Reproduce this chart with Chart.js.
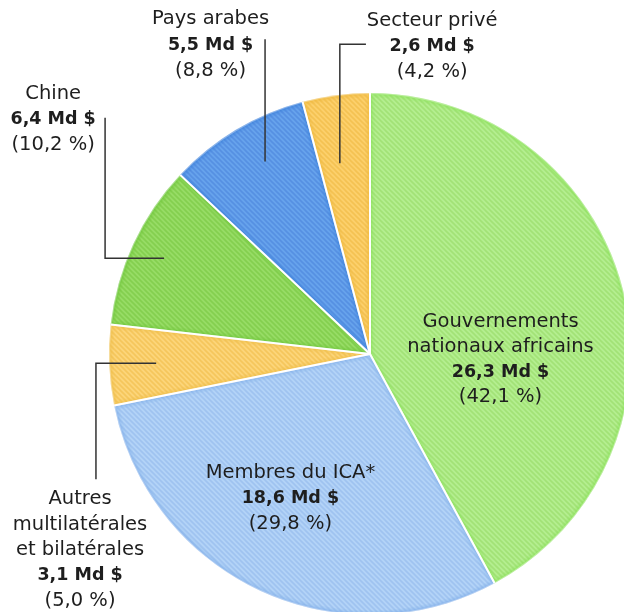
<!DOCTYPE html>
<html><head><meta charset="utf-8">
<script src="https://cdn.jsdelivr.net/npm/chart.js@4/dist/chart.umd.min.js"></script>
<style>
html,body{margin:0;padding:0;background:#fff;overflow:hidden;width:624px;height:612px;}
#wrap{position:absolute;left:0;top:0;width:640px;height:616px;}
</style></head>
<body><div id="wrap"><canvas id="c" width="640" height="616"></canvas></div>
<script>
const categories = ["Gouvernements nationaux africains","Membres du ICA*","Autres multilatérales et bilatérales","Chine","Pays arabes","Secteur privé"];
const amounts = [26.3, 18.6, 3.1, 6.4, 5.5, 2.6];
const percents = ["42,1 %","29,8 %","5,0 %","10,2 %","8,8 %","4,2 %"];
const amountLabels = ["26,3 Md $","18,6 Md $","3,1 Md $","6,4 Md $","5,5 Md $","2,6 Md $"];
const nameLines = [["Gouvernements","nationaux africains"],["Membres du ICA*"],["Autres","multilatérales","et bilatérales"],["Chine"],["Pays arabes"],["Secteur privé"]];

const baseColors = ["#b4ee90","#b3d3f7","#fcd57a","#97dc66","#67a3ec","#fcd06c"];
const stripeColors = ["#a2e276","#9fc3f0","#f5c65c","#84cf4f","#5690e2","#f4c252"];
const edgeColors = ["rgba(140,226,90,","rgba(130,175,235,","rgba(240,190,70,","rgba(110,200,60,","rgba(60,130,220,","rgba(240,185,60,"];

function makePattern(base, stripe){
  const s = 5;
  const c = document.createElement('canvas');
  c.width = s; c.height = s;
  const g = c.getContext('2d');
  g.fillStyle = base; g.fillRect(0,0,s,s);
  g.strokeStyle = stripe; g.lineWidth = 1.6;
  g.beginPath();
  g.moveTo(-1,-1); g.lineTo(s+1,s+1);
  g.moveTo(-1,s-1); g.lineTo(1,s+1);
  g.moveTo(s-1,-1); g.lineTo(s+1,1);
  g.stroke();
  return g.createPattern(c,'repeat');
}
const ctx0 = document.getElementById('c').getContext('2d');
const patterns = baseColors.map((b,i)=>makePattern(b, stripeColors[i]));

const FONT = '"DejaVu Sans", sans-serif';
const labelPlan = [
  {type:'in', lx:0.50, ly:-0.122, lh:25},
  {type:'in', lx:-0.305, ly:0.455, lh:25.5},
  {type:'out', pos:0.5, frac:0.82, hx:-1.05, vEnd:0.48, lx:-1.111, ly:0.557, lh:25.5},
  {type:'out', pos:0.5, frac:0.87, hx:-1.015, vEnd:-0.905, lx:-1.214, ly:-0.997, lh:25.5},
  {type:'out', pos:0.57, frac:0.84, vEnd:-1.206, lx:-0.611, ly:-1.282, lh:26},
  {type:'out', pos:0.40, frac:0.74, vEnd:-1.187, lx:0.238, ly:-1.275, lh:25.5, hook:0.10}
];

function drawBlock(ctx, lines, x, y, lh){
  ctx.textAlign='center'; ctx.textBaseline='middle';
  lines.forEach((ln,i)=>{
    ctx.font = (ln.bold? 'bold 17.5px ':'19.5px ') + FONT;
    ctx.fillStyle = '#1e1e1e';
    ctx.fillText(ln.t, x, y + i*lh);
  });
}

function arcPath(ctx, p){
  ctx.beginPath();
  ctx.moveTo(p.x, p.y);
  ctx.arc(p.x, p.y, p.outerRadius, p.startAngle, p.endAngle);
  ctx.closePath();
}

const labelPlugin = {
  id:'labels',
  afterDatasetsDraw(chart){
    const ctx = chart.ctx;
    const meta = chart.getDatasetMeta(0);
    // soft inner edge glow per slice
    meta.data.forEach((arc,i)=>{
      const p = arc.getProps(['x','y','startAngle','endAngle','outerRadius'], true);
      ctx.save();
      arcPath(ctx,p); ctx.clip();
      [[9,0.18],[6,0.25],[3.5,0.35]].forEach(([w,a])=>{
        ctx.strokeStyle = edgeColors[i]+a+')'; ctx.lineWidth=w; ctx.lineJoin='round';
        arcPath(ctx,p); ctx.stroke();
      });
      ctx.restore();
    });
    meta.data.forEach((arc)=>{
      const p = arc.getProps(['x','y','startAngle','endAngle','outerRadius'], true);
      ctx.save(); ctx.strokeStyle='#fff'; ctx.lineWidth=2; ctx.lineJoin='bevel';
      ctx.beginPath(); ctx.moveTo(p.x,p.y);
      ctx.lineTo(p.x+Math.cos(p.startAngle)*p.outerRadius, p.y+Math.sin(p.startAngle)*p.outerRadius);
      ctx.stroke(); ctx.restore();
    });
    ctx.save();
    meta.data.forEach((arc,i)=>{
      const p = arc.getProps(['x','y','startAngle','endAngle','outerRadius'], true);
      const cx=p.x, cy=p.y, r=p.outerRadius;
      const plan = labelPlan[i];
      const lines = nameLines[i].map(t=>({t})).concat([{t:amountLabels[i],bold:true},{t:'('+percents[i]+')'}]);
      if(plan.type==='in'){
        drawBlock(ctx, lines, cx + plan.lx*r, cy + plan.ly*r, plan.lh);
      } else {
        const a = p.startAngle + (p.endAngle-p.startAngle)*plan.pos;
        const sx = cx + Math.cos(a)*plan.frac*r;
        const sy = cy + Math.sin(a)*plan.frac*r;
        ctx.strokeStyle='#333'; ctx.lineWidth=1.5;
        ctx.beginPath(); ctx.moveTo(sx,sy);
        let x=sx, y=sy;
        if(plan.hx!==undefined){ x = cx + plan.hx*r; ctx.lineTo(x,y); }
        y = cy + plan.vEnd*r; ctx.lineTo(x,y);
        if(plan.hook){ x = x + plan.hook*r; ctx.lineTo(x,y); }
        ctx.stroke();
        drawBlock(ctx, lines, cx + plan.lx*r, cy + plan.ly*r, plan.lh);
      }
    });
    ctx.restore();
  }
};

new Chart(ctx0, {
  type:'pie',
  data:{ labels:categories, datasets:[{ data:amounts, backgroundColor:patterns, borderColor:'#ffffff', borderWidth:2 }]},
  options:{
    responsive:false, animation:false, events:[],
    layout:{padding:{left:108,top:92,right:8,bottom:0}},
    plugins:{legend:{display:false}, tooltip:{enabled:false}}
  },
  plugins:[labelPlugin]
});
</script></body></html>
